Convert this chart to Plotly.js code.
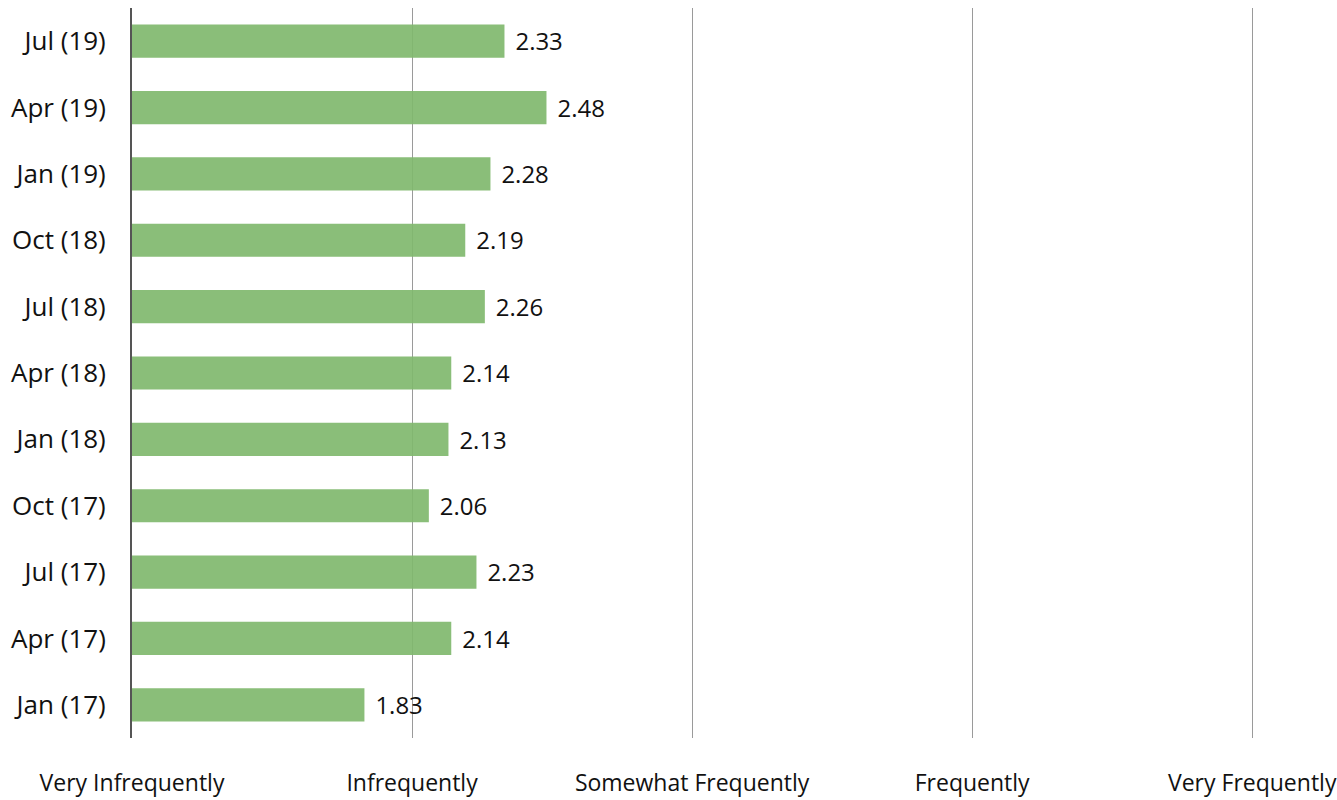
<!DOCTYPE html>
<html>
<head>
<meta charset="utf-8">
<script src="https://cdn.plot.ly/plotly-3.0.1.min.js"></script>
<style>html,body{margin:0;padding:0;background:#fff;}#chart{width:1337px;height:800px;}</style>
</head>
<body>
<div id="chart"></div>
<script>
const periods = ['Jan (17)','Apr (17)','Jul (17)','Oct (17)','Jan (18)','Apr (18)','Jul (18)','Oct (18)','Jan (19)','Apr (19)','Jul (19)'];
const scores = [1.83, 2.14, 2.23, 2.06, 2.13, 2.14, 2.26, 2.19, 2.28, 2.48, 2.33];
const scaleValues = [1, 2, 3, 4, 5];
const scaleLabels = ['Very Infrequently','Infrequently','Somewhat Frequently','Frequently','Very Frequently'];

const fontFam = '"Open Sans", Lato, sans-serif';
const fontSize = 26;
const xFontSize = 23;
const trace = {
  type: 'bar',
  orientation: 'h',
  y: periods,
  base: 1,
  x: scores.map(v => v - 1),   // bars start at 1 (Very Infrequently)
  text: scores.map(v => '\u2009\u2009' + v.toFixed(2)),
  textposition: 'outside',
  textfont: {family: fontFam, size: fontSize, color: '#111'},
  cliponaxis: false,
  marker: {color: 'rgba(128,184,110,0.92)', line: {width: 0}},
  hoverinfo: 'none'
};

const layout = {
  width: 1337, height: 800,
  margin: {l: 132, r: 82, t: 8, b: 62},
  paper_bgcolor: '#fff', plot_bgcolor: '#fff',
  showlegend: false,
  bargap: 0.5,
  font: {family: fontFam, size: fontSize, color: '#111'},
  xaxis: {
    range: [1, 5.01],
    tickmode: 'array', tickvals: scaleValues, ticktext: scaleLabels,
    showgrid: true, gridcolor: '#9a9a9a', gridwidth: 1,
    layer: 'above traces',
    zeroline: false, showline: false, ticks: '',
    ticklabelstandoff: 29,
    ticklabeloverflow: 'allow',
    tickfont: {family: fontFam, size: xFontSize, color: '#111'},
    fixedrange: true
  },
  yaxis: {
    type: 'category',
    categoryorder: 'array', categoryarray: periods,
    range: [-0.5, periods.length - 0.5],
    showgrid: false, zeroline: false,
    showline: true, linecolor: '#555', linewidth: 2,
    ticks: '', ticklabelstandoff: 19,
    tickfont: {family: fontFam, size: fontSize, color: '#111'},
    fixedrange: true
  }
};
Plotly.newPlot('chart', [trace], layout, {staticPlot: true});
</script>
</body>
</html>
